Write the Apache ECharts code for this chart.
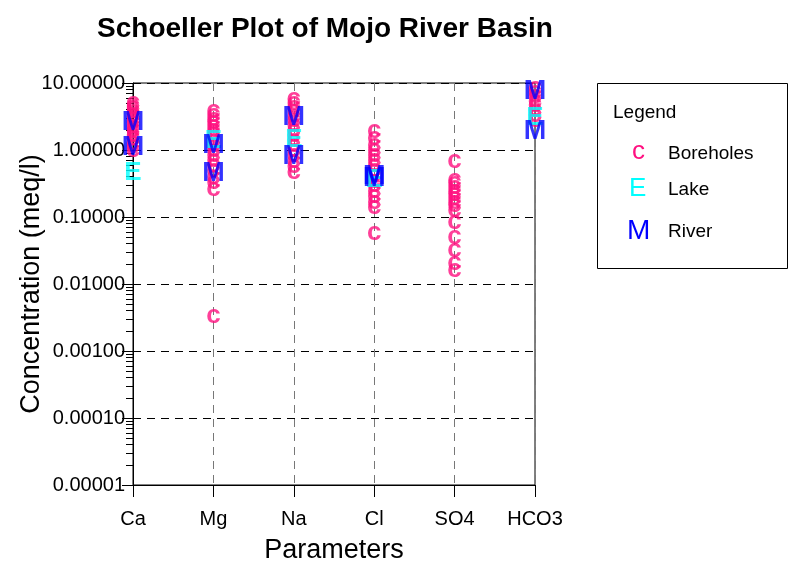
<!DOCTYPE html>
<html>
<head>
<meta charset="utf-8">
<script src="https://cdn.jsdelivr.net/npm/echarts@6/dist/echarts.min.js"></script>
<style>
  html, body { margin: 0; padding: 0; background: #fff; }
  #chart { width: 791px; height: 563px; }
</style>
</head>
<body>
<div id="chart"></div>
<script>
const FONT = '"Liberation Sans", Arial, Helvetica, sans-serif';

// parameters along the x axis
const categories = ['Ca', 'Mg', 'Na', 'Cl', 'SO4', 'HCO3'];

// borehole samples (meq/l) per parameter
const boreCa = [5.0, 4.6, 4.2, 3.8, 3.5, 3.2, 2.9, 2.6, 2.3, 2.1, 1.9, 1.7, 1.5, 1.3, 1.15, 1.0];
const boreMg = [3.8, 3.3, 2.9, 2.6, 2.3, 2.0, 1.8, 1.6, 1.4, 1.2, 1.0, 0.85, 0.72, 0.6, 0.5, 0.4, 0.33, 0.26, 0.0033];
const boreNa = [5.8, 5.0, 4.4, 3.8, 3.2, 2.8, 2.4, 2.0, 1.7, 1.4, 1.2, 1.0, 0.85, 0.7, 0.58, 0.47];
const boreCl = [1.9, 1.5, 1.2, 1.0, 0.85, 0.72, 0.6, 0.5, 0.42, 0.35, 0.3, 0.25, 0.21, 0.17, 0.14, 0.058];
const boreSO4 = [0.68, 0.36, 0.32, 0.28, 0.25, 0.22, 0.19, 0.17, 0.15, 0.13, 0.085, 0.05, 0.032, 0.021, 0.016];
const boreHCO3 = [8.5, 7.5, 6.5, 5.5, 4.8, 4.0, 3.4, 2.8];

// lake sample, one value per parameter (null = not plotted)
const lakeValues = [0.45, 1.35, 1.4, 0.36, null, 3.0];

// river samples, two per parameter
const river1 = [2.6, 1.15, 3.0, 0.4, null, 7.5];
const river2 = [1.1, 0.45, 0.8, 0.38, null, 1.9];

// y axis decades and minor ticks
const decades = [0.00001, 0.0001, 0.001, 0.01, 0.1, 1, 10];
const minorTicks = [];
decades.slice(0, -1).forEach(d => { for (let k = 2; k <= 9; k++) minorTicks.push(+(d * k).toPrecision(3)); });

const boreGroups = [boreCa, boreMg, boreNa, boreCl, boreSO4, boreHCO3];
const boreData = [];
boreGroups.forEach((vals, i) => vals.forEach(v => boreData.push([i, v])));
const lakeData = lakeValues.map((v, i) => v == null ? null : [i, v]).filter(Boolean);
const riverData = river1.concat(river2).map((v, i) => v == null ? null : [i % 6, v]).filter(Boolean);

function letterSeries(name, data, letter, color, size) {
  return {
    name, type: 'scatter', data,
    symbol: 'circle', symbolSize: 1,
    itemStyle: { color: 'transparent' },
    clip: false,
    label: {
      show: true, position: 'inside', formatter: letter,
      color, fontSize: size, fontWeight: 'bold', fontFamily: FONT
    },
    emphasis: { disabled: true },
    z: 5
  };
}

const chart = echarts.init(document.getElementById('chart'), null, { renderer: 'canvas' });
chart.setOption({
  backgroundColor: '#fff',
  animation: false,
  textStyle: { fontFamily: FONT },
  title: {
    text: 'Schoeller Plot of Mojo River Basin',
    left: 320, top: 10, textAlign: 'center',
    textStyle: { fontSize: 28, fontWeight: 'bold', color: '#000', fontFamily: FONT }
  },
  grid: {
    left: 133, right: 256, top: 83, bottom: 78,
    containLabel: false, outerBoundsMode: 'none',
    show: true, borderColor: '#000', borderWidth: 1, backgroundColor: 'transparent'
  },
  xAxis: {
    type: 'category', data: categories, boundaryGap: false,
    name: 'Parameters', nameLocation: 'middle', nameGap: 52, nameMoveOverlap: false,
    nameTextStyle: { fontSize: 27, color: '#000', fontFamily: FONT },
    axisLine: { lineStyle: { color: '#000', width: 1 } },
    axisTick: { show: true, length: 12, lineStyle: { color: '#000' } },
    axisLabel: { color: '#000', fontSize: 20, margin: 24, fontFamily: FONT },
    splitLine: { show: true, lineStyle: { color: '#777', type: [8, 6] } }
  },
  yAxis: [{
    type: 'log', logBase: 10, min: 0.00001, max: 10,
    name: 'Concentration (meq/l)', nameLocation: 'middle', nameGap: 88, nameMoveOverlap: false,
    nameTextStyle: { fontSize: 27, color: '#000', fontFamily: FONT },
    axisLine: { show: true, lineStyle: { color: '#000', width: 1 } },
    axisTick: { show: true, length: 11, lineStyle: { color: '#000' } },
    axisLabel: {
      color: '#000', fontSize: 20, margin: 8, fontFamily: FONT,
      formatter: v => Number(v).toFixed(5)
    },
    splitLine: { show: true, lineStyle: { color: '#000', type: [8, 6] } }
  }, {
    type: 'log', logBase: 10, min: 0.00001, max: 10, position: 'left',
    axisLine: { show: false },
    axisTick: { show: true, length: 7, customValues: minorTicks, lineStyle: { color: '#000' } },
    axisLabel: { show: false },
    splitLine: { show: false }
  }],
  series: [
    letterSeries('Boreholes', boreData, 'c', '#FF1080', 26),
    letterSeries('Lake', lakeData, 'E', '#00FFFF', 26),
    letterSeries('River', riverData, 'M', '#0000FF', 27)
  ],
  graphic: [
    { type: 'rect', shape: { x: 597.5, y: 83.5, width: 190, height: 185 },
      style: { fill: '#fff', stroke: '#000', lineWidth: 1 } },
    { type: 'text', left: 613, top: 103, style: { text: 'Legend', font: '19px ' + FONT, fill: '#000' } },
    { type: 'text', left: 632, top: 139, style: { text: 'c', font: '26px ' + FONT, fill: '#FF1080' } },
    { type: 'text', left: 629, top: 176, style: { text: 'E', font: '26px ' + FONT, fill: '#00FFFF' } },
    { type: 'text', left: 627, top: 217, style: { text: 'M', font: '28px ' + FONT, fill: '#0000FF' } },
    { type: 'text', left: 668, top: 144, style: { text: 'Boreholes', font: '19px ' + FONT, fill: '#000' } },
    { type: 'text', left: 668, top: 180, style: { text: 'Lake', font: '19px ' + FONT, fill: '#000' } },
    { type: 'text', left: 668, top: 222, style: { text: 'River', font: '19px ' + FONT, fill: '#000' } }
  ]
});
</script>
</body>
</html>
